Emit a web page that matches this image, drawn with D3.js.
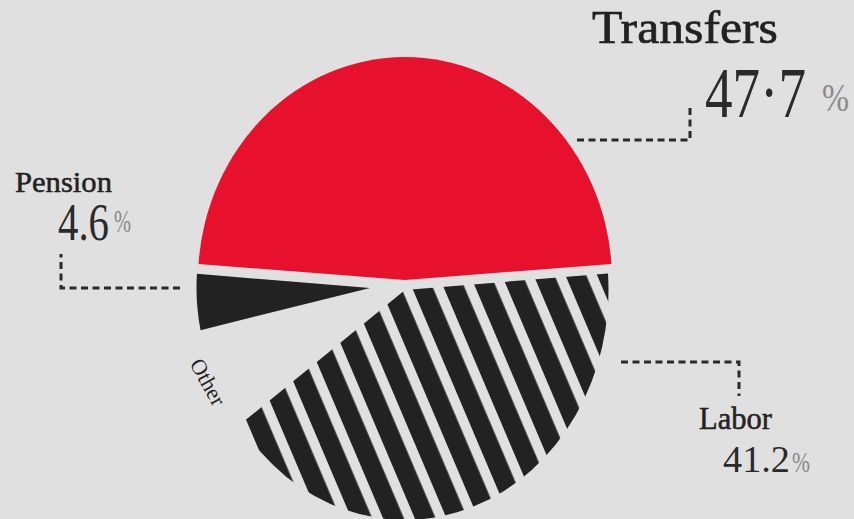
<!DOCTYPE html>
<html>
<head>
<meta charset="utf-8">
<script src="https://cdn.jsdelivr.net/npm/d3@7"></script>
<style>
  html, body { margin: 0; padding: 0; background: #e0e0e0; }
  svg { display: block; }
  text { font-family: "Liberation Serif", "DejaVu Serif", serif; }
</style>
</head>
<body>
<svg id="chart" width="854" height="519"></svg>
<script>
// Income sources, share of total (%)
const categories = ["Transfers", "Labor", "Other", "Pension"];
const shares = [47.7, 41.2, 6.5, 4.6];
const valueLabels = ["47·7", "41.2", "", "4.6"];

const W = 854, H = 519;
const svg = d3.select("#chart");

svg.append("rect").attr("width", W).attr("height", H).attr("fill", "#e0e0e0");

// Diagonal hatching for the Labor slice
const defs = svg.append("defs");
const period = 29.2;
const hatch = defs.append("pattern")
  .attr("id", "hatch")
  .attr("patternUnits", "userSpaceOnUse")
  .attr("x", 4.1)
  .attr("width", period)
  .attr("height", 20)
  .attr("patternTransform", "rotate(-23)");
hatch.append("rect").attr("width", period).attr("height", 20).attr("fill", "#e0e0e0");
hatch.append("rect").attr("width", 19.2).attr("height", 20).attr("fill", "#222222");

// Transfers slice centred at 12 o'clock, the rest clockwise
const startA = -Math.PI * shares[0] / 100;
const pie = d3.pie().sort(null).value(d => d.value)
  .startAngle(startA).endAngle(startA + 2 * Math.PI);
const slices = pie(categories.map((c, i) => ({ name: c, value: shares[i] })));

// Each wedge is pulled out on its own and drawn slightly tall
const sliceStyle = {
  Transfers: { cx: 405, cy: 280, r: 207,   sy: 1.077, fill: "#e8112d" },
  Labor:     { cx: 405, cy: 290, r: 203.5, sy: 1.13,  fill: "url(#hatch)" },
  Other:     null,
  Pension:   { cx: 370, cy: 288, r: 173.5, sy: 1.13,  fill: "#222222" }
};

slices.forEach(s => {
  const st = sliceStyle[s.data.name];
  if (!st) return;
  const arc = d3.arc().innerRadius(0).outerRadius(st.r);
  const tf = `translate(${st.cx},${st.cy}) scale(1,${st.sy})`;
  if (s.data.name === "Labor") {
    const cp = defs.append("clipPath").attr("id", "clip-labor");
    cp.append("path").attr("d", arc(s)).attr("transform", tf);
    svg.append("rect").attr("width", W).attr("height", H)
      .attr("fill", st.fill).attr("clip-path", "url(#clip-labor)");
  } else {
    svg.append("path").attr("d", arc(s)).attr("transform", tf).attr("fill", st.fill);
  }
});

// Dashed leader lines
const leaders = [
  [[577, 140], [690, 140], [690, 107]],
  [[180, 288], [61, 288], [61, 254]],
  [[621, 362], [739, 362], [739, 396]]
];
svg.selectAll("path.leader").data(leaders).join("path")
  .attr("class", "leader")
  .attr("d", d3.line())
  .attr("fill", "none")
  .attr("stroke", "#2a2a2a")
  .attr("stroke-width", 3)
  .attr("stroke-dasharray", "7,4.5");

// Labels: set type is tall and narrow, so each label is squeezed
// horizontally to its target width
function label(x, y, str, size, len, fill, weight) {
  const t = svg.append("text")
    .attr("font-size", size)
    .attr("fill", fill)
    .text(str);
  if (weight) t.attr("stroke", fill).attr("stroke-width", weight);
  const natural = t.node().getComputedTextLength();
  t.attr("transform", `translate(${x},${y}) scale(${len / natural},1)`);
  return t;
}

label(592, 43, categories[0], 47, 186, "#222", 0.7);
label(705, 117, valueLabels[0], 71, 101, "#2a2a2a");
label(822, 111, "%", 40, 27, "#8a8a8a");

label(15, 192, categories[3], 29, 97, "#222", 0.5);
label(58, 240, valueLabels[3], 53, 51, "#2a2a2a");
label(114, 232, "%", 31, 17, "#8a8a8a");

label(699, 429, categories[1], 31, 73, "#222", 0.5);
label(723, 472, valueLabels[1], 37, 67, "#2a2a2a");
label(792, 472, "%", 29, 18, "#8a8a8a");

svg.append("text")
  .attr("transform", "translate(208,382) rotate(61)")
  .attr("text-anchor", "middle")
  .attr("dominant-baseline", "central")
  .attr("font-size", 22)
  .attr("fill", "#222")
  .text(categories[2]);
</script>
</body>
</html>
